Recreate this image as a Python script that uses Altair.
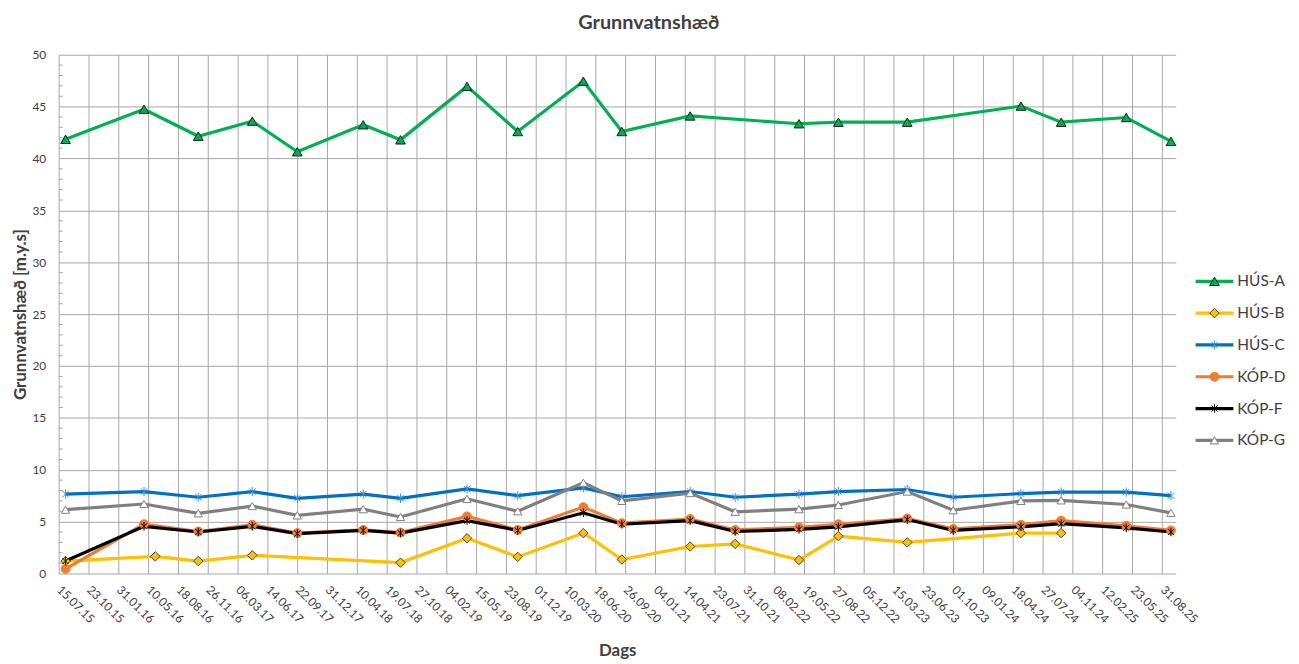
import altair as alt
import pandas as pd
from datetime import datetime, timezone

FONT = "Lato"
TXT = "#404040"
GRID = "#A6A6A6"

series_names = ["HÚS-A", "HÚS-B", "HÚS-C", "KÓP-D", "KÓP-F", "KÓP-G"]

# measurement dates shared by HÚS-C, KÓP-D, KÓP-F, KÓP-G
dates_common = ["2015-08-07", "2016-04-26", "2016-10-25", "2017-04-24", "2017-09-22",
                "2018-05-01", "2018-09-03", "2019-04-14", "2019-10-01", "2020-05-08",
                "2020-09-14", "2021-05-01", "2021-09-29", "2022-05-01", "2022-09-10",
                "2023-04-29", "2023-09-30", "2024-05-14", "2024-09-26", "2025-05-02",
                "2025-09-29"]

dates_A = ["2015-08-07", "2016-04-26", "2016-10-25", "2017-04-24", "2017-09-22",
           "2018-05-01", "2018-09-03", "2019-04-14", "2019-10-01", "2020-05-08",
           "2020-09-14", "2021-05-01", "2022-05-01", "2022-09-10", "2023-04-29",
           "2024-05-14", "2024-09-26", "2025-05-02", "2025-09-29"]
values_A = [41.85, 44.75, 42.15, 43.6, 40.65, 43.25, 41.8, 46.95, 42.6, 47.45,
            42.6, 44.1, 43.35, 43.5, 43.5, 45.05, 43.5, 43.95, 41.65]

dates_B = ["2015-08-07", "2016-06-03", "2016-10-25", "2017-04-24", "2018-09-03",
           "2019-04-14", "2019-10-01", "2020-05-08", "2020-09-14", "2021-05-01",
           "2021-09-29", "2022-05-01", "2022-09-10", "2023-04-29", "2024-05-14",
           "2024-09-26"]
values_B = [1.2, 1.65, 1.2, 1.75, 1.05, 3.4, 1.6, 3.9, 1.35, 2.6,
            2.85, 1.3, 3.6, 3.0, 3.9, 3.9]

values_C = [7.65, 7.9, 7.35, 7.9, 7.25, 7.65, 7.25, 8.15, 7.5, 8.25, 7.4,
            7.9, 7.35, 7.65, 7.9, 8.1, 7.35, 7.7, 7.85, 7.85, 7.5]
values_D = [0.45, 4.75, 4.05, 4.7, 3.9, 4.2, 3.95, 5.5, 4.2, 6.4, 4.85,
            5.25, 4.2, 4.45, 4.75, 5.3, 4.3, 4.7, 5.1, 4.6, 4.15]
values_F = [1.2, 4.55, 4.0, 4.55, 3.85, 4.15, 3.9, 5.1, 4.15, 5.85, 4.75,
            5.1, 4.05, 4.25, 4.5, 5.2, 4.15, 4.5, 4.8, 4.4, 4.0]
values_G = [6.15, 6.7, 5.8, 6.5, 5.6, 6.2, 5.45, 7.2, 6.0, 8.75, 7.0,
            7.75, 5.95, 6.2, 6.6, 7.9, 6.1, 7.0, 7.05, 6.65, 5.85]

tick_labels = ["15.07.15", "23.10.15", "31.01.16", "10.05.16", "18.08.16", "26.11.16",
               "06.03.17", "14.06.17", "22.09.17", "31.12.17", "10.04.18", "19.07.18",
               "27.10.18", "04.02.19", "15.05.19", "23.08.19", "01.12.19", "10.03.20",
               "18.06.20", "26.09.20", "04.01.21", "14.04.21", "23.07.21", "31.10.21",
               "08.02.22", "19.05.22", "27.08.22", "05.12.22", "15.03.23", "23.06.23",
               "01.10.23", "09.01.24", "18.04.24", "27.07.24", "04.11.24", "12.02.25",
               "23.05.25", "31.08.25"]
axis_start = "2015-07-15"
axis_end = "2025-10-15"

y_major = [0, 5, 10, 15, 20, 25, 30, 35, 40, 45, 50]
y_minor = [v for v in range(0, 51) if v % 5 != 0]

line_colors = ["#00B050", "#FFC000", "#0070C0", "#ED7D31", "#000000", "#808080"]
ASTER = "M-0.7,-0.7L0.7,0.7M-0.7,0.7L0.7,-0.7M0,-1L0,1"
marker_shapes = ["triangle-up", "diamond", ASTER, "circle", ASTER, "triangle-up"]
marker_fills = ["#00B050", "#FFC000", "#0070C0", "#ED7D31", "#000000", "#FFFFFF"]
marker_strokes = ["#1A1A1A", "#404040", "#3D8FE0", "#ED7D31", "#000000", "#808080"]
marker_sizes = [95, 70, 100, 70, 100, 170]
marker_widths = [1, 1, 1.4, 1, 1.8, 2]


def ms(s, fmt="%Y-%m-%d"):
    return int(datetime.strptime(s, fmt).replace(tzinfo=timezone.utc).timestamp() * 1000)


rows = []
for name, ds, vs in [("HÚS-A", dates_A, values_A), ("HÚS-B", dates_B, values_B),
                     ("HÚS-C", dates_common, values_C), ("KÓP-D", dates_common, values_D),
                     ("KÓP-F", dates_common, values_F), ("KÓP-G", dates_common, values_G)]:
    for d, v in zip(ds, vs):
        rows.append({"series": name, "date": ms(d), "value": v})
df = pd.DataFrame(rows)

tick_ms = [ms(t, "%d.%m.%y") for t in tick_labels]

x_enc = alt.X("date:T",
              scale=alt.Scale(type="utc", domain=[ms(axis_start), ms(axis_end)]),
              axis=alt.Axis(values=tick_ms, tickCount=60,
                            labelExpr="utcFormat(datum.value, '%d.%m.%y')",
                            labelAngle=45, labelAlign="left", labelBaseline="middle",
                            labelPadding=14, ticks=False, domain=False, grid=True,
                            gridColor=GRID, gridWidth=1, labelFontSize=12,
                            labelColor=TXT, labelFont=FONT, title="Dags",
                            titleFont=FONT, titleFontSize=17, titleFontWeight="bold",
                            titleColor=TXT, titlePadding=18, labelOverlap=False,
                            labelFlush=False))
y_enc = alt.Y("value:Q",
              scale=alt.Scale(domain=[0, 50], nice=False, zero=True),
              axis=alt.Axis(values=y_major, ticks=False, domain=False, grid=True,
                            gridColor=GRID, gridWidth=1, labelFontSize=12,
                            labelColor=TXT, labelFont=FONT, labelPadding=13,
                            title="Grunnvatnshæð [m.y.s]", titleFont=FONT,
                            titleFontSize=17, titleFontWeight="bold", titleColor=TXT,
                            titlePadding=2))

color_scale = alt.Scale(domain=series_names, range=line_colors)

minor = alt.Chart(pd.DataFrame({"v": y_minor})).mark_rule(color=GRID, strokeWidth=1).encode(
    y=alt.Y("v:Q", scale=alt.Scale(domain=[0, 50], nice=False)),
    x=alt.value(0), x2=alt.value(4))

lines = alt.Chart(df).mark_line(strokeWidth=3.2).encode(
    x=x_enc, y=y_enc,
    color=alt.Color("series:N", scale=color_scale, legend=None),
    detail="series:N")

marker_enc = dict(
    fill=alt.Fill("series:N", scale=alt.Scale(domain=series_names, range=marker_fills), legend=None),
    stroke=alt.Stroke("series:N", scale=alt.Scale(domain=series_names, range=marker_strokes), legend=None),
    shape=alt.Shape("series:N", scale=alt.Scale(domain=series_names, range=marker_shapes), legend=None),
    size=alt.Size("series:N", scale=alt.Scale(domain=series_names, range=marker_sizes), legend=None),
    strokeWidth=alt.StrokeWidth("series:N", scale=alt.Scale(domain=series_names, range=marker_widths), legend=None),
)

points = alt.Chart(df).mark_point(filled=True, opacity=1).encode(
    x="date:T", y="value:Q", **marker_enc)

main = alt.layer(minor, lines, points).properties(width=1124, height=522)

legend_df = pd.DataFrame({"series": series_names})
leg_y = alt.Y("series:N", scale=alt.Scale(domain=series_names, range=[212, 404]),
              axis=None)
leg_rule = alt.Chart(legend_df).mark_rule(strokeWidth=3.2).encode(
    y=leg_y, x=alt.value(2), x2=alt.value(40),
    color=alt.Color("series:N", scale=color_scale, legend=None))
leg_pts = alt.Chart(legend_df).mark_point(filled=True, opacity=1).encode(
    y=leg_y, x=alt.value(21), **marker_enc)
leg_txt = alt.Chart(legend_df).mark_text(align="left", baseline="middle", fontSize=15.5,
                                         font=FONT, color=TXT).encode(
    y=leg_y, x=alt.value(44), text="series:N")
legend = alt.layer(leg_rule, leg_pts, leg_txt).properties(width=90, height=522)

chart = alt.hconcat(main, legend, spacing=18, bounds="flush").properties(
    title=alt.TitleParams("Grunnvatnshæð", font=FONT, fontSize=20, fontWeight="bold",
                          color=TXT, anchor="middle", offset=16),
    padding={"left": 4, "top": 3, "right": 5, "bottom": 0},
    background="white",
).configure_view(strokeWidth=0, stroke="transparent")

chart.save("out.html", embed_options={"renderer": "svg", "actions": False})
